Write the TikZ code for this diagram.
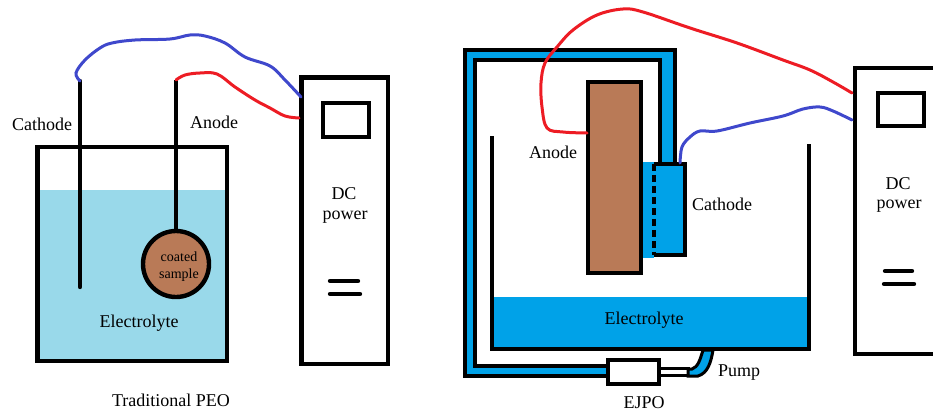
\documentclass[tikz,border=0pt]{standalone}
\usepackage{fontspec}
\setmainfont{Liberation Serif}
\definecolor{lightbath}{HTML}{99D9EA}
\definecolor{darkbath}{HTML}{00A2E8}
\definecolor{samplebrown}{HTML}{B97A57}
\definecolor{wireblue}{HTML}{3F48CC}
\definecolor{wirered}{HTML}{ED1C24}
\tikzset{
	wall/.style={draw=black,line width=4.4pt},
	bar/.style={draw=black,line width=4.4pt,line cap=round},
	wirepos/.style={draw=wirered,line width=3pt,line cap=round},
	wireneg/.style={draw=wireblue,line width=3pt,line cap=round},
	label/.style={font=\fontsize{18}{20}\selectfont,inner sep=0pt,align=center},
	smalllabel/.style={font=\fontsize{14}{16}\selectfont,inner sep=0pt,align=center},
}

\begin{document}
\begin{tikzpicture}[x=1pt,y=-1pt]
	\useasboundingbox (0,0) rectangle (933,415);

	% traditional cell
	\path[fill=lightbath] (38,190) rectangle (227,361);
	\path[wall] (37.5,147) rectangle (227,361);
	\node[wall,circle,fill=samplebrown,minimum size=66pt,inner sep=0pt] (sample1) at (176,264) {};
	\node[smalllabel] (coated1) at (179,257) {coated};
	\node[smalllabel] (coated2) at (179,275) {sample};
	\coordinate (cathodetop1) at (80,81);
	\coordinate (cathodeend1) at (80,287);
	\coordinate (anodetop1) at (176,80);
	\path[bar] (cathodetop1) -- (cathodeend1);
	\path[wall] (anodetop1) -- (sample1.north);
	\node[label] (cathode1) at (42,124) {Cathode};
	\node[label] (anode1) at (214,122) {Anode};
	\node[label] (electrolyte1) at (139,323) {Electrolyte};
	\node[label] (title1) at (171,400) {Traditional PEO};

	% first power supply
	\node[wall,minimum width=86.5pt,minimum height=286.5pt,inner sep=0pt] (power1) at (344.75,220.75) {};
	\node[wall,minimum width=46pt,minimum height=34pt,inner sep=0pt] (display1) at (346,120) {};
	\node[label] (dc1) at (344,194) {DC};
	\node[label] (dc1b) at (345,217) {power};
	\path[bar] (330,281) -- (358,281);
	\path[bar] (330,294) -- (360,294);
	\coordinate (blueend1) at (301,97);
	\coordinate (redend1) at (299,118);
	\path[wireneg] plot [smooth,tension=0.6] coordinates
		{(cathodetop1) (76,73) (85,60) (100,48) (112,43) (135,40) (170,39) (190,35) (205,36) (225,43) (245,57) (270,66) (285,80) (blueend1)};
	\path[wirepos] plot [smooth,tension=0.6] coordinates
		{(anodetop1) (185,75) (200,73) (217,74) (235,87) (255,100) (270,108) (285,116) (redend1)};

	% ejpo cell
	\path[fill=darkbath] (492,297) rectangle (809,349);
	\path[wall] (492,136) -- (492,349) -- (809,349) -- (809,144);
	\node[label] (electrolyte2) at (644,320) {Electrolyte};

	\path[wall,fill=darkbath] (607,376) -- (465,376) -- (465,50) -- (675,50) -- (675,164)
		-- (660,164) -- (660,60) -- (475,60) -- (475,366) -- (607,366);

	\path[fill=darkbath] (641,162) rectangle (654,258);
	\node[fill=darkbath,minimum width=31pt,minimum height=91pt,inner sep=0pt] (block) at (669.5,209.5) {};
	\path[wall] (block.north west) -- (block.north east) -- (block.south east) -- (block.south west);
	\path[draw=black,line width=4.5pt,dash pattern=on 7pt off 4pt] (block.north west) -- (block.south west);
	\node[wall,fill=samplebrown,minimum width=53pt,minimum height=191pt,inner sep=0pt] (plate) at (614.5,177.5) {};

	% pump and nozzle
	\path[draw=black,line width=3pt,fill=white] (659,368) rectangle (688,375);
	\path[draw=black,line width=3pt,fill=darkbath] (688,369) -- (692,369) .. controls (698,367) and (700,360) .. (703,350)
		-- (713,350) .. controls (711,362) and (708,373) .. (698,376) -- (688,376) -- cycle;
	\node[wall,fill=white,minimum width=51pt,minimum height=24pt,inner sep=0pt] (nozzle) at (633.5,372) {};
	\node[label] (ejpo) at (644,403) {EJPO};
	\node[label] (pump) at (739,373) {Pump};
	\node[label] (anode2) at (553,152) {Anode};
	\node[label] (cathode2) at (722,204) {Cathode};

	% second power supply
	\path[wall] (933,68) -- (855,68) -- (855,354) -- (933,354);
	\node[wall,minimum width=46pt,minimum height=33pt,inner sep=0pt] (display2) at (901,109.5) {};
	\node[label] (dc2) at (898,184) {DC};
	\node[label] (dc2b) at (899,206) {power};
	\path[bar] (885,271) -- (912,271);
	\path[bar] (884,284) -- (914,284);
	\coordinate (blueend2) at (852,120);
	\coordinate (blueend2b) at (680,163);
	\coordinate (redend2) at (852,93);
	\coordinate (redend2b) at (587,133);
	\path[wirepos] plot [smooth,tension=0.6] coordinates
		{(redend2b) (563,132) (547,128) (542,107) (541,83) (545,63) (557,47) (573,30) (597,15) (623,9) (643,12) (690,28) (737,43) (783,60) (810,70) (833,82) (redend2)};
	\path[wireneg] plot [smooth,tension=0.6] coordinates
		{(blueend2b) (682,147) (690,137) (700,131) (717,131) (750,123) (783,116) (803,109) (820,107) (833,111) (blueend2)};

\end{tikzpicture}
\end{document}
